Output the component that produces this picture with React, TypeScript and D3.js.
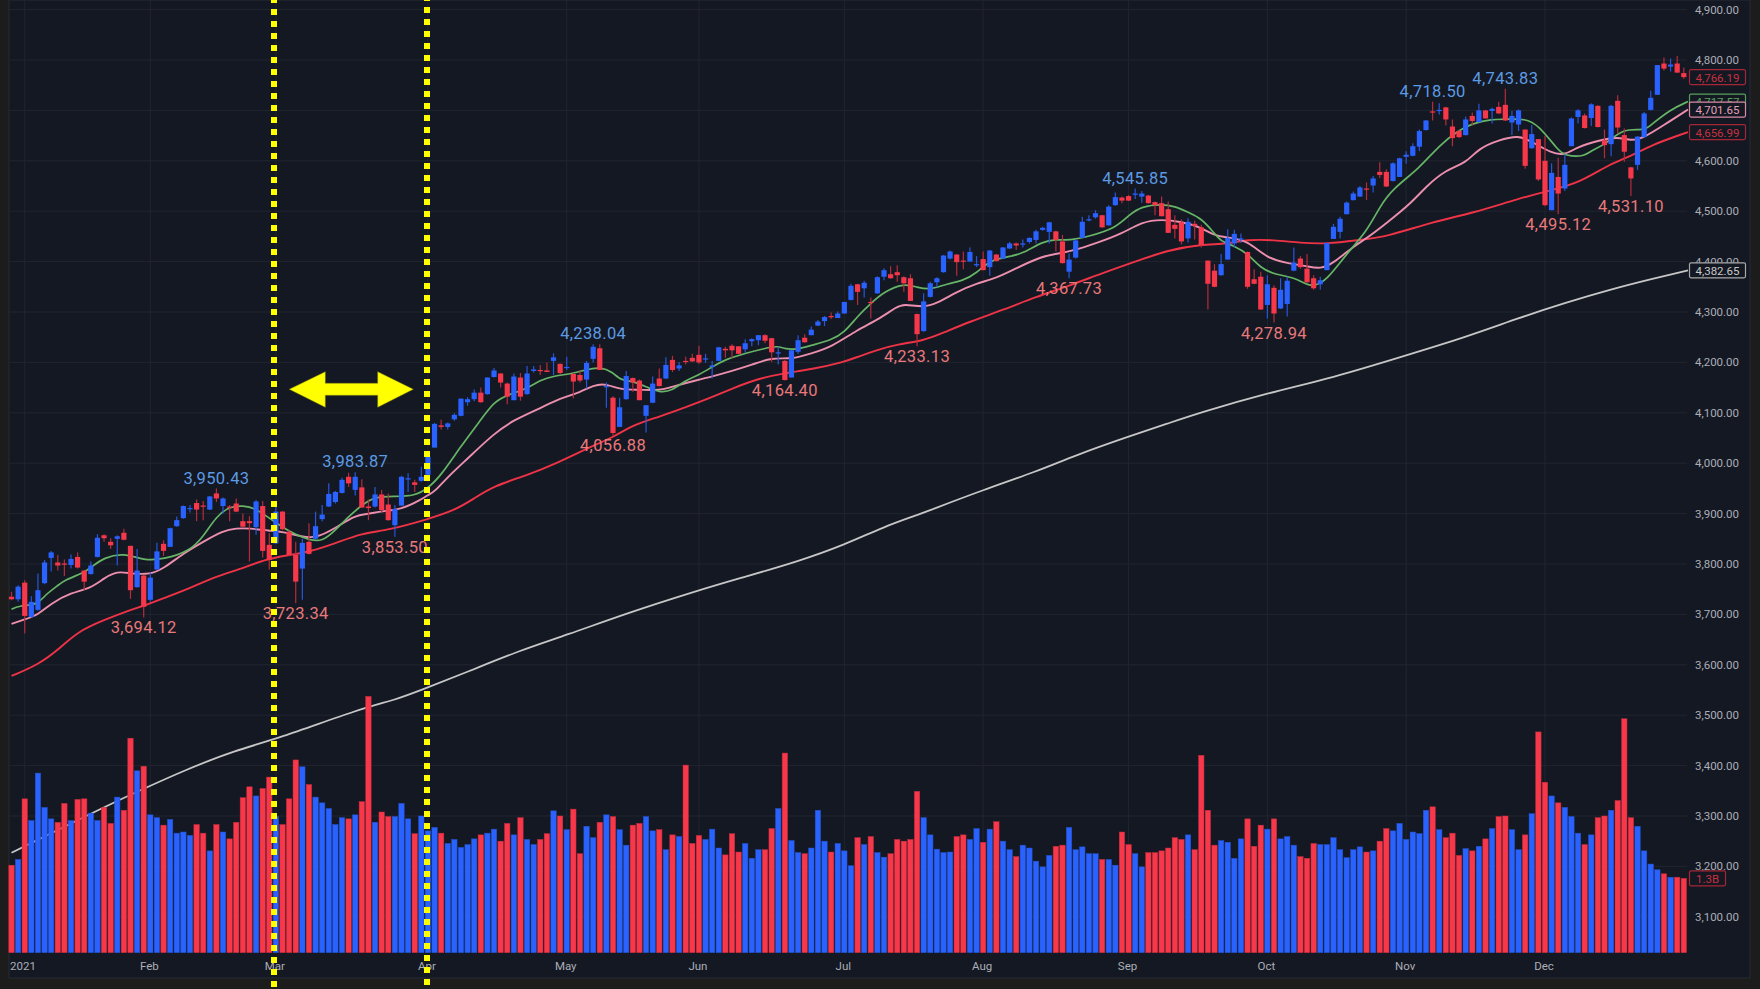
import * as d3 from "d3";

const highs = [
  3745,3758,3768,3736,3781,3808,3826,3818,3809,3819, 3823,3788,3805,3859,3859,3851,3857,3870,3836,3830,
  3778,3783,3842,3847,3872,3894,3916,3917,3928,3925, 3935,3950,3932,3917,3930,3900,3895,3927,3925,3861,
  3914,3905,3867,3844,3850,3881,3904,3917,3960,3945, 3971,3981,3982,3968,3928,3953,3947,3940,3917,3975,
  3980,3967,3993,4020,4080,4086,4081,4099,4129,4131, 4146,4150,4170,4189,4179,4160,4178,4179,4193,4193,
  4195,4200,4218,4198,4211,4179,4185,4203,4236,4236, 4160,4133,4130,4183,4170,4166,4115,4172,4188,4210,
  4213,4201,4211,4217,4233,4217,4203,4231,4231,4236, 4232,4246,4248,4254,4256,4249,4231,4205,4224,4254,
  4256,4271,4284,4292,4299,4301,4320,4356,4356,4362, 4329,4371,4387,4391,4393,4371,4375,4297,4337,4360,
  4369,4413,4422,4415,4420,4428,4411,4420,4423,4415, 4429,4439,4438,4444,4448,4463,4469,4479,4461,4453,
  4416,4444,4489,4492,4502,4493,4512,4537,4529,4532, 4545,4540,4532,4519,4529,4519,4492,4484,4486,4481,
  4473,4402,4395,4415,4464,4463,4456,4420,4385,4380, 4373,4353,4367,4370,4428,4411,4415,4373,4370,4437,
  4475,4489,4519,4539,4550,4557,4570,4597,4583,4597, 4606,4619,4635,4662,4681,4717,4714,4707,4682,4661,
  4688,4696,4713,4701,4706,4717,4743,4699,4702,4662, 4671,4643,4649,4595,4606,4613,4686,4703,4694,4714,
  4710,4662,4711,4730,4664,4588,4649,4697,4739,4790, 4805,4803,4808,4785,
];

const lows = [
  3728,3725,3662,3694,3707,3760,3785,3787,3776,3791, 3791,3748,3779,3813,3844,3830,3797,3847,3731,3753,
  3694,3725,3789,3816,3834,3874,3890,3902,3885,3887, 3907,3923,3900,3885,3903,3873,3805,3858,3813,3789,
  3840,3867,3816,3722,3729,3819,3849,3885,3913,3920, 3940,3953,3936,3912,3887,3912,3903,3886,3854,3915,
  3943,3943,3963,3975,4031,4067,4067,4084,4093,4114, 4123,4120,4136,4170,4150,4117,4125,4124,4136,4180,
  4175,4181,4175,4176,4185,4129,4160,4148,4200,4185, 4110,4055,4072,4126,4142,4125,4061,4119,4152,4167,
  4181,4183,4196,4201,4197,4199,4168,4203,4209,4208, 4216,4219,4232,4234,4238,4201,4196,4164,4170,4217,
  4239,4254,4272,4272,4286,4288,4297,4323,4314,4329, 4287,4336,4363,4366,4360,4340,4322,4232,4261,4329,
  4349,4378,4404,4372,4385,4400,4389,4383,4372,4400, 4406,4425,4423,4428,4436,4436,4461,4436,4420,4396,
  4367,4406,4447,4480,4485,4467,4471,4511,4516,4520, 4524,4517,4515,4492,4490,4457,4446,4434,4438,4444,
  4428,4305,4349,4372,4404,4428,4437,4346,4355,4304, 4287,4279,4306,4291,4381,4386,4358,4344,4344,4383,
  4445,4446,4494,4521,4528,4522,4537,4566,4548,4559, 4568,4594,4609,4619,4660,4680,4692,4670,4629,4645,
  4650,4670,4676,4684,4674,4693,4679,4651,4659,4584, 4624,4560,4510,4502,4494,4540,4629,4674,4664,4669,
  4666,4605,4609,4653,4598,4530,4582,4646,4700,4731, 4779,4777,4774,4763,
];

const opens = [
  3735,3730,3763,3695,3709,3762,3812,3803,3801,3798, 3814,3787,3780,3814,3857,3844,3850,3862,3836,3754,
  3777,3729,3789,3840,3834,3875,3891,3909,3921,3916, 3908,3940,3915,3914,3920,3885,3885,3873,3915,3838,
  3841,3904,3864,3818,3791,3844,3850,3889,3914,3923, 3941,3973,3947,3952,3914,3914,3938,3918,3877,3916,
  3969,3962,3965,3977,4031,4075,4072,4087,4094,4121, 4127,4140,4137,4171,4178,4158,4125,4170,4137,4183,
  4185,4184,4203,4197,4189,4177,4175,4166,4207,4228, 4151,4130,4072,4127,4169,4164,4094,4120,4168,4168,
  4205,4188,4203,4209,4215,4206,4191,4203,4227,4233, 4232,4226,4242,4244,4254,4248,4219,4203,4170,4221,
  4249,4254,4273,4282,4292,4288,4297,4324,4355,4347, 4320,4337,4370,4375,4379,4369,4367,4296,4262,4330,
  4359,4379,4406,4414,4402,4400,4393,4405,4389,4414, 4406,4426,4436,4434,4439,4443,4463,4459,4460,4440,
  4380,4408,4447,4482,4488,4492,4472,4512,4527,4530, 4533,4529,4531,4518,4516,4504,4473,4478,4446,4475,
  4468,4402,4382,4373,4404,4436,4444,4419,4365,4370, 4314,4348,4307,4316,4382,4406,4386,4367,4355,4383,
  4445,4459,4494,4522,4529,4545,4551,4578,4578,4560, 4568,4608,4610,4628,4661,4698,4699,4706,4668,4659,
  4651,4689,4677,4700,4699,4707,4711,4676,4672,4662, 4625,4643,4600,4502,4568,4545,4629,4687,4690,4685,
  4709,4641,4633,4719,4651,4587,4592,4647,4701,4731, 4793,4787,4793,4774,
];

const closes = [
  3730,3755,3697,3725,3748,3803,3823,3797,3799,3810, 3793,3765,3797,3852,3851,3837,3855,3848,3748,3787,
  3715,3773,3825,3826,3871,3887,3915,3911,3908,3914, 3934,3930,3930,3912,3904,3874,3881,3924,3826,3808,
  3904,3869,3818,3765,3842,3820,3875,3898,3939,3943, 3967,3960,3973,3912,3911,3938,3907,3887,3909,3973,
  3970,3957,3973,4013,4078,4072,4079,4096,4128,4127, 4140,4121,4170,4184,4160,4132,4172,4132,4178,4186,
  4184,4181,4210,4179,4191,4162,4164,4199,4231,4185, 4153,4060,4111,4173,4160,4125,4115,4158,4153,4195,
  4185,4194,4201,4202,4200,4208,4194,4230,4224,4224, 4217,4238,4246,4254,4243,4220,4220,4165,4224,4244,
  4240,4265,4281,4290,4290,4297,4320,4352,4340,4358, 4318,4369,4383,4367,4373,4357,4322,4256,4321,4357,
  4367,4412,4420,4399,4400,4419,4395,4383,4422,4401, 4428,4436,4432,4436,4447,4460,4467,4478,4443,4397,
  4404,4442,4479,4484,4496,4468,4509,4528,4521,4521, 4535,4535,4516,4512,4490,4457,4465,4440,4479,4471,
  4433,4356,4350,4395,4447,4455,4446,4350,4356,4305, 4355,4297,4344,4362,4398,4389,4359,4347,4363,4437,
  4469,4485,4517,4535,4547,4544,4565,4572,4549,4595, 4605,4612,4629,4659,4680,4697,4701,4682,4645,4647,
  4682,4679,4700,4684,4703,4694,4680,4689,4700,4590, 4653,4563,4512,4576,4535,4592,4684,4700,4665,4712,
  4667,4631,4709,4666,4618,4565,4648,4694,4725,4790, 4783,4791,4775,4766,
];

// volume in billions
const volumes = [
  1.53,1.63,2.69,2.31,3.14,2.54,2.34,2.28,2.61,2.31, 2.68,2.69,2.44,2.31,2.54,2.26,2.72,2.49,3.75,3.18,
  3.26,2.41,2.36,2.23,2.33,2.09,2.11,2.05,2.24,2.09, 1.78,2.24,2.11,1.99,2.28,2.71,2.90,2.74,2.87,3.07,
  2.38,2.24,2.69,3.37,3.25,2.94,2.72,2.62,2.52,2.24, 2.36,2.34,2.41,2.64,4.48,2.28,2.46,2.38,2.38,2.61,
  2.34,2.08,2.39,2.13,2.19,2.09,1.91,1.98,1.84,1.89, 1.99,2.06,2.09,2.16,1.95,2.26,2.06,2.36,1.98,1.89,
  1.98,2.08,2.48,2.39,2.15,2.51,1.73,2.21,2.01,2.28, 2.41,2.38,2.15,1.88,2.23,2.26,2.38,2.13,2.15,1.80,
  2.06,2.03,3.28,1.91,2.05,1.98,2.16,1.83,1.71,2.08, 1.76,1.91,1.65,1.80,1.80,2.17,2.52,3.49,1.96,1.75,
  1.73,1.83,2.49,1.95,1.76,1.91,1.78,1.52,2.01,1.89, 2.03,1.75,1.67,1.73,1.98,1.95,1.98,2.82,2.36,2.06,
  1.81,1.75,1.76,2.03,2.06,1.98,2.17,1.93,2.16,2.29, 1.95,1.80,1.68,1.88,1.83,1.60,1.50,1.70,1.86,1.88,
  2.19,1.80,1.85,1.73,1.73,1.63,1.63,1.53,2.11,1.89, 1.73,1.50,1.75,1.75,1.78,1.83,2.01,1.98,2.06,1.80,
  3.45,2.49,1.88,1.96,1.93,1.65,1.99,2.34,1.86,2.23, 2.16,2.34,1.99,2.03,1.88,1.68,1.65,1.91,1.89,1.89,
  2.01,1.80,1.66,1.80,1.85,1.76,1.78,1.95,2.17,2.13, 2.26,1.98,2.11,2.08,2.49,2.55,2.15,2.01,2.09,1.70,
  1.82,1.78,1.86,1.99,2.17,2.38,2.39,2.15,1.80,2.06, 2.43,3.86,2.98,2.74,2.62,2.54,2.38,2.09,1.89,2.06,
  2.36,2.39,2.49,2.66,4.09,2.36,2.21,1.78,1.55,1.45, 1.38,1.32,1.32,1.30,
];

// moving averages, read at these bars
const greenIdx = [0,1,4,5,7,8,11,12,14,17,20,23,27,29,31,33,35,37,39,41,43,45,47,49,51,53,55,58,61,63,65,68,71,73,75,78,80,82,85,87,89,91,92,94,96,98,100,102,104,106,108,111,114,116,117,119,121,124,126,128,130,132,135,137,139,141,144,146,148,151,153,156,158,160,163,167,169,171,174,176,178,180,182,183,185,187,189,191,194,196,197,199,202,205,207,209,213,216,219,221,224,226,229,231,234,235,238,239,241,244,247,248,251,253];
const greenVal = [3710,3717,3719,3738,3757,3768,3783,3793,3813,3822,3807,3809,3826,3854,3895,3914,3916,3910,3891,3873,3858,3848,3844,3867,3894,3917,3934,3934,3935,3950,3976,4034,4086,4122,4135,4148,4165,4173,4178,4186,4191,4181,4165,4163,4152,4140,4144,4165,4175,4191,4206,4218,4228,4233,4226,4226,4234,4244,4259,4292,4317,4340,4357,4349,4344,4354,4362,4377,4403,4410,4416,4440,4444,4442,4450,4466,4492,4510,4514,4510,4498,4486,4456,4440,4431,4416,4387,4375,4369,4354,4351,4363,4416,4459,4509,4545,4585,4631,4661,4674,4683,4682,4684,4671,4621,4610,4608,4621,4631,4666,4659,4671,4702,4717.57];

const pinkIdx = [0,2,4,6,9,12,14,16,18,21,23,26,29,32,34,36,39,41,44,46,49,52,54,56,59,62,63,64,66,69,73,76,80,83,86,88,90,92,95,98,100,104,106,109,112,115,118,121,124,128,131,134,135,138,140,143,146,149,152,156,158,161,164,168,171,174,177,180,182,184,187,190,193,196,198,200,203,205,208,212,214,217,220,222,225,228,230,233,235,237,240,243,245,247,250,253];
const pinkVal = [3681,3690,3699,3722,3743,3752,3772,3786,3781,3779,3791,3821,3844,3866,3871,3871,3866,3864,3854,3851,3871,3897,3899,3905,3908,3928,3937,3943,3973,4009,4059,4086,4109,4129,4140,4155,4158,4146,4146,4144,4152,4166,4172,4183,4195,4210,4206,4218,4230,4265,4284,4311,4316,4309,4317,4340,4357,4367,4387,4411,4415,4423,4436,4455,4479,4484,4479,4468,4451,4448,4442,4406,4397,4391,4385,4397,4430,4446,4476,4519,4549,4582,4595,4625,4641,4651,4638,4615,4611,4628,4640,4648,4639,4646,4671,4701.65];

const redIdx = [0,4,7,10,14,18,20,23,27,31,35,38,42,45,49,53,57,63,67,70,73,78,83,87,91,94,98,102,106,109,113,117,121,126,128,131,134,138,141,145,150,155,160,165,170,175,180,184,187,191,195,199,204,208,215,221,228,233,237,242,245,248,253];
const redVal = [3578,3600,3629,3666,3689,3709,3717,3732,3752,3776,3791,3808,3818,3824,3841,3861,3867,3889,3906,3930,3955,3976,4003,4029,4051,4076,4092,4111,4131,4148,4168,4179,4186,4201,4211,4225,4236,4243,4259,4281,4304,4330,4352,4377,4400,4423,4434,4435,4444,4443,4437,4435,4443,4449,4479,4496,4525,4542,4555,4595,4609,4631,4656.99];

const whiteIdx = [0,15,19,26,34,40,53,58,62,69,77,84,93,104,110,119,126,132,137,139,147,155,161,169,175,180,190,200,210,220,228,235,242,248,253];
const whiteVal = [3227,3324,3348,3390,3431,3452,3514,3530,3550,3586,3629,3659,3702,3748,3771,3805,3838,3874,3897,3907,3947,3983,4016,4053,4079,4101,4139,4170,4210,4250,4288,4318,4345,4365,4382.65];

const priceTicks = d3.range(3100, 4901, 100);
const monthLabels = ["2021", "Feb", "Mar", "Apr", "May", "Jun", "Jul", "Aug", "Sep", "Oct", "Nov", "Dec"];
const monthIdx = [2, 21, 40, 63, 84, 104, 126, 147, 169, 190, 211, 232];

const highMarkIdx = [31, 52, 88, 170, 215, 226];
const highMarkVal = [3950.43, 3983.87, 4238.04, 4545.85, 4718.5, 4743.83];
const lowMarkIdx = [20, 43, 58, 91, 117, 137, 160, 191, 234, 245];
const lowMarkVal = [3694.12, 3723.34, 3853.5, 4056.88, 4164.4, 4233.13, 4367.73, 4278.94, 4495.12, 4531.1];

const W = 1760;
const H = 989;
const plotL = 9;
const plotR = 1687;
const chartR = 1750;
const chartB = 978;
const volBase = 952.7;

const BG = "#141823";
const UP = "#2962ff";
const DOWN = "#f7374a";
const YELLOW = "#ffff00";
const FONT = "Roboto, sans-serif";

const fmt = d3.format(",.2f");

const x = d3.scaleBand<number>().domain(d3.range(highs.length)).range([8.2, 1687.1]);
const cx = (i: number) => (x(i) as number) + x.bandwidth() / 2;
const y = d3.scaleLinear().domain([3100, 4800]).range([916.8, 60]);
const yVol = d3.scaleLinear().domain([0, 5]).range([volBase, volBase - 286]);

// lines run on to the edge of the plot at the last bar
const maLine = (idx: number[], vals: number[]) =>
  d3
    .line<number>()
    .x((_, k) => (k === idx.length - 1 ? plotR + 1 : cx(idx[k])))
    .y((v) => y(v))
    .curve(d3.curveBasis)(vals) as string;

// price tag on the axis, for the last value of a series
function Tag({ cy, w = 56, text, stroke, color }: { cy: number; w?: number; text: string; stroke: string; color: string }) {
  return (
    <g>
      <rect x={1689.5} y={cy - 7.5} width={w} height={15} rx={1.5} fill={BG} stroke={stroke} strokeWidth={1.2} />
      <text x={1689.5 + w / 2} y={cy + 0.5} textAnchor="middle" dominantBaseline="central" fontSize={11.5} fill={color}>
        {text}
      </text>
    </g>
  );
}

export default function App() {
  const bw = 5.2;
  const arrowY = 389.3;
  const arrow = [
    [289.3, arrowY],
    [325.3, arrowY - 17.6],
    [325.3, arrowY - 6],
    [377.7, arrowY - 6],
    [377.7, arrowY - 17.6],
    [413.3, arrowY],
    [377.7, arrowY + 18],
    [377.7, arrowY + 6],
    [325.3, arrowY + 6],
    [325.3, arrowY + 18],
  ];

  return (
    <svg width={W} height={H} viewBox={`0 0 ${W} ${H}`} style={{ position: "absolute", left: 0, top: 0, display: "block" }} fontFamily={FONT}>
      <rect width={W} height={H} fill="#1c1c1d" />
      <rect x={plotL} y={0} width={chartR - plotL} height={chartB} fill={BG} stroke="#262a35" strokeWidth={1} />

      {priceTicks.map((t) => (
        <line key={t} x1={plotL} x2={plotR} y1={y(t)} y2={y(t)} stroke="#212530" strokeWidth={1} />
      ))}
      {monthIdx.map((m) => (
        <line key={m} x1={cx(m)} x2={cx(m)} y1={0} y2={volBase} stroke="#212530" strokeWidth={1} />
      ))}

      <path d={maLine(whiteIdx, whiteVal)} fill="none" stroke="#c6c6c6" strokeWidth={1.8} />

      {volumes.map((v, i) => (
        <rect
          key={i}
          x={cx(i) - 2.7}
          y={yVol(v)}
          width={5.4}
          height={volBase - yVol(v)}
          fill={closes[i] >= opens[i] ? UP : DOWN}
          stroke={closes[i] >= opens[i] ? "#2452c8" : "#c42c3c"}
          strokeWidth={0.5}
        />
      ))}

      <path d={maLine(redIdx, redVal)} fill="none" stroke="#ef3346" strokeWidth={1.9} />
      <path d={maLine(pinkIdx, pinkVal)} fill="none" stroke="#ec8fae" strokeWidth={1.9} />
      <path d={maLine(greenIdx, greenVal)} fill="none" stroke="#66b566" strokeWidth={1.7} />

      {highs.map((h, i) => {
        const up = closes[i] >= opens[i];
        const top = y(Math.max(opens[i], closes[i]));
        const bot = y(Math.min(opens[i], closes[i]));
        return (
          <g key={i}>
            <line x1={cx(i)} x2={cx(i)} y1={y(h)} y2={y(lows[i])} stroke={up ? "#2657dc" : "#b52c3d"} strokeWidth={1.2} />
            <rect x={cx(i) - bw / 2} y={top} width={bw} height={Math.max(bot - top, 1.2)} fill={up ? UP : DOWN} />
          </g>
        );
      })}

      {highMarkIdx.map((m, k) => (
        <text key={m} x={cx(m)} y={y(highMarkVal[k]) - 9.5} textAnchor="middle" dominantBaseline="central" fontSize={16.5} letterSpacing={0.35} fill="#5c9be3">
          {fmt(highMarkVal[k])}
        </text>
      ))}
      {lowMarkIdx.map((m, k) => (
        <text key={m} x={cx(m)} y={y(lowMarkVal[k]) + 10.5} textAnchor="middle" dominantBaseline="central" fontSize={16.5} letterSpacing={0.35} fill="#e8787a">
          {fmt(lowMarkVal[k])}
        </text>
      ))}

      {priceTicks.map((t) => (
        <text key={t} x={1717} y={y(t)} textAnchor="middle" dominantBaseline="central" fontSize={11.5} fill="#abaeb6">
          {fmt(t)}
        </text>
      ))}
      {monthLabels.map((m, k) => (
        <text key={m} x={k === 0 ? 23 : cx(monthIdx[k]) - 1} y={966} textAnchor="middle" dominantBaseline="central" fontSize={11.5} fill="#abaeb6">
          {m}
        </text>
      ))}

      <Tag cy={y(4766.19)} text="4,766.19" stroke="#a32735" color="#c7303f" />
      <Tag cy={y(4717.57)} text="4,717.57" stroke="#57a05a" color="#57a05a" />
      <Tag cy={y(4701.65)} text="4,701.65" stroke="#d88aa6" color="#e3a0b8" />
      <Tag cy={y(4656.99)} text="4,656.99" stroke="#a32735" color="#c7303f" />
      <Tag cy={y(4382.65)} text="4,382.65" stroke="#a8a8a8" color="#c8c8c8" />
      <Tag cy={yVol(1.3)} w={36} text="1.3B" stroke="#a32735" color="#c7303f" />

      <line x1={274} x2={274} y1={-3} y2={H} stroke={YELLOW} strokeWidth={6} strokeDasharray="6 6" />
      <line x1={427} x2={427} y1={-5} y2={H} stroke={YELLOW} strokeWidth={6} strokeDasharray="6 6" />
      <polygon points={arrow.map((p) => p.join(",")).join(" ")} fill={YELLOW} stroke="#8a8a10" strokeWidth={0.5} />
    </svg>
  );
}
